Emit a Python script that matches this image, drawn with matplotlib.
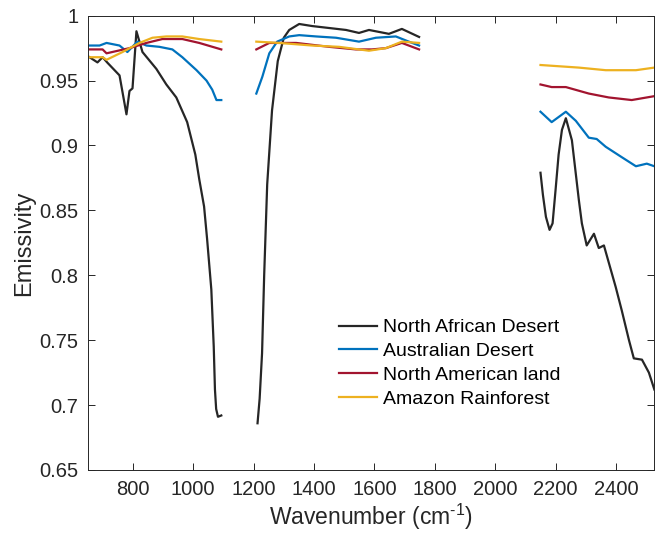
import numpy as np
import matplotlib
matplotlib.use("Agg")
import matplotlib.pyplot as plt

plt.rcParams['font.family'] = ['Liberation Sans', 'DejaVu Sans']
plt.rcParams['mathtext.fontset'] = 'custom'
plt.rcParams['mathtext.rm'] = 'Liberation Sans'

nan = np.nan

# North African Desert
wn_naf = [650, 683, 700, 715, 756, 779, 789, 799, 812, 832, 878, 911, 944, 980, 1007, 1020,
          1036, 1046, 1060, 1068, 1072, 1076, 1082, 1093,
          nan,
          1213, 1220, 1228, 1235, 1245, 1261, 1280, 1300, 1318, 1351, 1394, 1450, 1506, 1549,
          1582, 1648, 1691, 1748,
          nan,
          2150, 2158, 2168, 2180, 2190, 2200, 2210, 2221, 2234, 2254, 2277, 2287, 2303, 2327, 2343,
          2360, 2399, 2419, 2443, 2459, 2486, 2509, 2527]
em_naf = [0.969, 0.964, 0.968, 0.964, 0.954, 0.924, 0.942, 0.944, 0.988, 0.972, 0.959, 0.947,
          0.937, 0.918, 0.893, 0.874, 0.853, 0.828, 0.789, 0.745, 0.712, 0.697, 0.691, 0.692,
          nan,
          0.686, 0.705, 0.740, 0.800, 0.870, 0.927, 0.965, 0.983, 0.989, 0.9936, 0.992, 0.9905,
          0.989, 0.9867, 0.989, 0.986, 0.9898, 0.9836,
          nan,
          0.879, 0.862, 0.845, 0.835, 0.840, 0.866, 0.893, 0.912, 0.921, 0.904, 0.858, 0.840,
          0.823, 0.832, 0.821, 0.823, 0.791, 0.773, 0.750, 0.736, 0.735, 0.725, 0.712]

# Australian Desert
wn_aus = [650, 690, 713, 756, 782, 815, 845, 888, 931, 964, 1011, 1044, 1063, 1077, 1093,
          nan,
          1209, 1229, 1252, 1278, 1318, 1351, 1407, 1473, 1549, 1605, 1671, 1714, 1748,
          nan,
          2150, 2187, 2234, 2267, 2310, 2336, 2366, 2419, 2466, 2502, 2527]
em_aus = [0.977, 0.977, 0.979, 0.977, 0.972, 0.980, 0.977, 0.976, 0.974, 0.968, 0.958, 0.950,
          0.943, 0.935, 0.935,
          nan,
          0.940, 0.953, 0.971, 0.980, 0.984, 0.985, 0.984, 0.983, 0.980, 0.983, 0.984, 0.980, 0.977,
          nan,
          0.926, 0.918, 0.926, 0.919, 0.906, 0.905, 0.899, 0.891, 0.884, 0.886, 0.884]

# North American land
wn_nam = [650, 700, 713, 789, 845, 898, 964, 1020, 1093,
          nan,
          1209, 1252, 1341, 1450, 1539, 1592, 1638, 1691, 1748,
          nan,
          2150, 2187, 2234, 2310, 2376, 2452, 2527]
em_nam = [0.974, 0.974, 0.971, 0.975, 0.979, 0.982, 0.982, 0.979, 0.974,
          nan,
          0.974, 0.979, 0.979, 0.976, 0.974, 0.974, 0.975, 0.979, 0.974,
          nan,
          0.947, 0.945, 0.945, 0.940, 0.937, 0.935, 0.938]

# Amazon Rainforest
wn_ama = [650, 700, 713, 766, 822, 865, 911, 964, 1020, 1093,
          nan,
          1209, 1285, 1394, 1483, 1582, 1638, 1691, 1748,
          nan,
          2150, 2277, 2366, 2466, 2527]
em_ama = [0.968, 0.968, 0.966, 0.972, 0.979, 0.983, 0.984, 0.984, 0.982, 0.980,
          nan,
          0.980, 0.979, 0.977, 0.976, 0.973, 0.975, 0.980, 0.979,
          nan,
          0.962, 0.960, 0.958, 0.958, 0.960]

labels = ['North African Desert', 'Australian Desert', 'North American land', 'Amazon Rainforest']
colors = ['#262626', '#0072BD', '#A2142F', '#EDB120']

fig = plt.figure(figsize=(6.55, 5.35), dpi=100)
ax = fig.add_axes([0.1336, 0.1215, 0.8654, 0.8492])

series = [(wn_naf, em_naf), (wn_aus, em_aus), (wn_nam, em_nam), (wn_ama, em_ama)]
for (x, y), lab, c in zip(series, labels, colors):
    ax.plot(x, y, color=c, lw=1.6, label=lab)

ax.set_xlim(650, 2527)
ax.set_ylim(0.65, 1.0)
ax.set_xticks(range(800, 2401, 200))
yt = [0.65, 0.7, 0.75, 0.8, 0.85, 0.9, 0.95, 1]
ax.set_yticks(yt)
ax.set_yticklabels(['0.65', '0.7', '0.75', '0.8', '0.85', '0.9', '0.95', '1'])
ax.tick_params(direction='in', top=True, right=True, labelsize=14.5, length=5,
               width=0.7, color='#262626', labelcolor='#262626')
ax.tick_params(axis='y', pad=6.5)
ax.tick_params(axis='x', pad=7)
for s in ax.spines.values():
    s.set_linewidth(0.7)
    s.set_color('#262626')

ax.set_xlabel('Wavenumber (cm$^{\\text{-1}}$)', fontsize=16.5, color='#262626', labelpad=2)
ax.set_ylabel('Emissivity', fontsize=17, color='#262626', labelpad=3)

ax.legend(loc='upper left', bbox_to_anchor=(0.43, 0.35), frameon=False, fontsize=14,
          handlelength=1.95, handletextpad=0.3, labelspacing=0.32, borderaxespad=0)

fig.savefig('out.png', dpi=100)
